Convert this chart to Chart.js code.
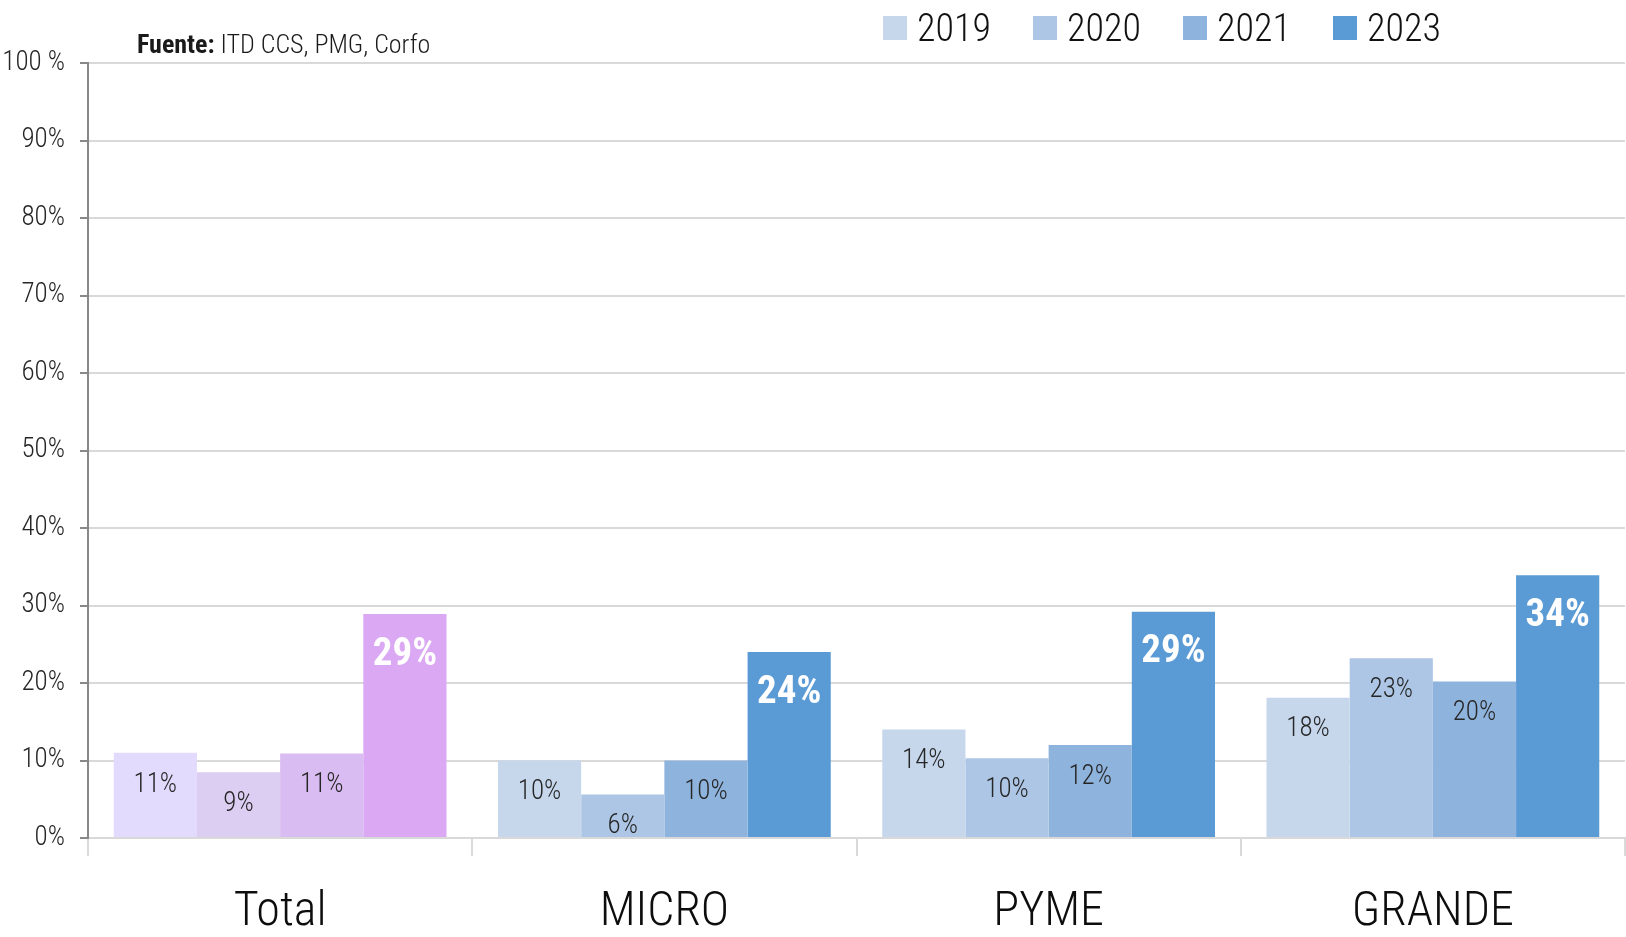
<!DOCTYPE html>
<html>
<head>
<meta charset="utf-8">
<script src="https://cdn.jsdelivr.net/npm/chart.js@4.4.1/dist/chart.umd.min.js"></script>
<style>
  body { margin: 0; background: #fff; }
  #wrap { position: relative; width: 1626px; height: 937px; }
  #fuente { position: absolute; left: 137px; top: 29px; line-height: 1;
    font: 300 26px "Roboto Condensed", sans-serif; color: #1a1a1a; }
  #fuente b { font-weight: 700; }
  #legend { position: absolute; left: 883px; top: 7px; display: flex; }
  .item { width: 150px; display: flex; align-items: center; height: 42px;
    font: 300 38px "Roboto Condensed", sans-serif; color: #111; }
  .box { width: 24px; height: 24px; margin-right: 10px; }
</style>
</head>
<body>
<div id="wrap">
  <canvas id="chart"></canvas>
  <div id="fuente"><b>Fuente:</b> ITD CCS, PMG, Corfo</div>
  <div id="legend"></div>
</div>
<script>
/* --------------- Data --------------------- */
const categories = ["Total", "MICRO", "PYME", "GRANDE"];
const years = ["2019", "2020", "2021", "2023"];
const values2019 = [11.0, 10.0, 14.0, 18.1];
const values2020 = [8.5, 5.6, 10.3, 23.2];
const values2021 = [10.9, 10.0, 12.0, 20.2];
const values2023 = [28.9, 24.0, 29.2, 33.9];
const yTicks = [0, 10, 20, 30, 40, 50, 60, 70, 80, 90, 100];

/* --------------- Colors --------------------- */
const yearColors = ["#c6d7ec", "#adc6e6", "#8eb3dc", "#5b9bd5"];
const totalColors = ["#e2dbfd", "#dccdf3", "#d9bcf1", "#dba8f3"];

const FONT = '"Roboto Condensed", sans-serif';
const seriesValues = [values2019, values2020, values2021, values2023];

const datasets = years.map((y, i) => ({
  label: y,
  data: seriesValues[i],
  // first category (Total) is drawn in lilac, the rest in blue
  backgroundColor: categories.map((c, j) => (j === 0 ? totalColors[i] : yearColors[i])),
  borderWidth: 0,
  barPercentage: 1,
  categoryPercentage: 0.866,
}));

/* --------------- Labels inside the bars --------------------- */
const barLabels = {
  id: "barLabels",
  afterDatasetsDraw(chart) {
    const ctx = chart.ctx;
    chart.data.datasets.forEach((ds, i) => {
      const big = i === 3;
      chart.getDatasetMeta(i).data.forEach((bar, j) => {
        ctx.save();
        ctx.font = big ? "bold 39px " + FONT : "300 27px " + FONT;
        ctx.fillStyle = big ? "#ffffff" : "#262626";
        ctx.textAlign = "center";
        ctx.textBaseline = "middle";
        ctx.fillText(Math.round(ds.data[j]) + "%", bar.x, bar.y + (big ? 41 : 32));
        ctx.restore();
      });
    });
  },
};

new Chart(document.getElementById("chart"), {
  type: "bar",
  data: { labels: categories, datasets: datasets },
  plugins: [barLabels],
  options: {
    responsive: true,
    maintainAspectRatio: false,
    animation: false,
    layout: { padding: { top: 63, right: 1, left: 0, bottom: 0 } },
    plugins: { legend: { display: false }, tooltip: { enabled: false } },
    scales: {
      x: {
        offset: true,
        afterFit: (scale) => { scale.height = 99; },
        grid: { offset: true, drawOnChartArea: false, drawTicks: true, tickLength: 18, color: "#d9d9d9", lineWidth: 2 },
        border: { color: "#d9d9d9", width: 2 },
        ticks: { font: { family: FONT, size: 48, weight: "300" }, color: "#0d0d0d", padding: 28 },
      },
      y: {
        min: 0,
        max: 100,
        afterBuildTicks: (scale) => { scale.ticks = yTicks.map((v) => ({ value: v })); },
        afterFit: (scale) => { scale.width = 88; },
        grid: { color: "#d9d9d9", lineWidth: 2, tickColor: "#888888", tickLength: 8 },
        border: { color: "#888888", width: 2 },
        ticks: {
          font: { family: FONT, size: 27, weight: "300" },
          color: "#262626",
          padding: 15,
          callback: (v) => (v === 100 ? "100 %" : v + "%"),
        },
      },
    },
  },
});

/* --------------- Legend --------------------- */
const legend = document.getElementById("legend");
years.forEach((y, i) => {
  const item = document.createElement("div");
  item.className = "item";
  item.innerHTML = '<span class="box" style="background:' + yearColors[i] + '"></span>' + y;
  legend.appendChild(item);
});
</script>
</body>
</html>
